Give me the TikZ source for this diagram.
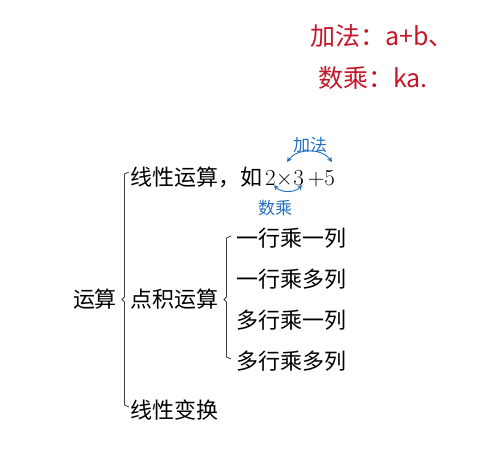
\documentclass[tikz,border=0pt]{standalone}
\usepackage{fontspec}
\newfontfamily\cjk{Noto Sans CJK SC}
\newfontfamily\lmr{Latin Modern Roman}
\usetikzlibrary{arrows.meta}
\definecolor{hand}{RGB}{196,22,40}
\definecolor{note}{RGB}{35,110,190}
\tikzset{
  main/.style={font=\cjk\fontsize{22}{24}\selectfont, inner sep=0pt, anchor=west},
  blue/.style={font=\cjk\fontsize{17}{19}\selectfont, text=note, inner sep=0pt},
  red/.style={font=\cjk\fontsize{25}{28}\selectfont, text=hand, inner sep=0pt, anchor=west},
  brace/.style={draw=black!75, line width=0.8pt},
  arc/.style={draw=note, line width=0.9pt, {Stealth[length=5pt,width=5pt]}-{Stealth[length=5pt,width=5pt]}}
}
\begin{document}
\begin{tikzpicture}[x=1pt,y=-1pt]
\useasboundingbox (0,0) rectangle (483,450);
% handwritten notes
\node[red] (n1) at (310,36) {加法：a+b、};
\node[red] (n2) at (318,78) {数乘：ka.};
% root
\node[main, anchor=center] (root) at (95,299) {运算};
% level 1
\node[main] (l1) at (130,177) {线性运算，如\kern3pt{\lmr\fontsize{23}{24}\selectfont 2{\kern0.5pt}×{\kern0.5pt}3\kern4pt+5}};
\node[main] (l2) at (130,299) {点积运算};
\node[main] (l3) at (130,410) {线性变换};
% level 2
\node[main] (m1) at (236,238) {一行乘一列};
\node[main] (m2) at (236,279) {一行乘多列};
\node[main] (m3) at (236,320) {多行乘一列};
\node[main] (m4) at (236,361) {多行乘多列};
% braces
\draw[brace] (129,172) -- (124.5,174) -- (124.5,297) -- (122,299.5) -- (124.5,302) -- (124.5,405) -- (129,407);
\draw[brace] (231,236) -- (226.5,238) -- (226.5,297) -- (224,299.5) -- (226.5,302) -- (226.5,357) -- (231,359);
% annotations
\node[blue] (jf) at (310,145) {加法};
\node[blue] (sc) at (275,208) {数乘};
\coordinate (a1) at (287,162);
\coordinate (a2) at (332,162);
\coordinate (b1) at (274,185);
\coordinate (b2) at (302,185);
\draw[arc] (a1) .. controls (297,148) and (322,148) .. (a2);
\draw[arc] (b1) .. controls (281,193) and (295,193) .. (b2);
\end{tikzpicture}
\end{document}
